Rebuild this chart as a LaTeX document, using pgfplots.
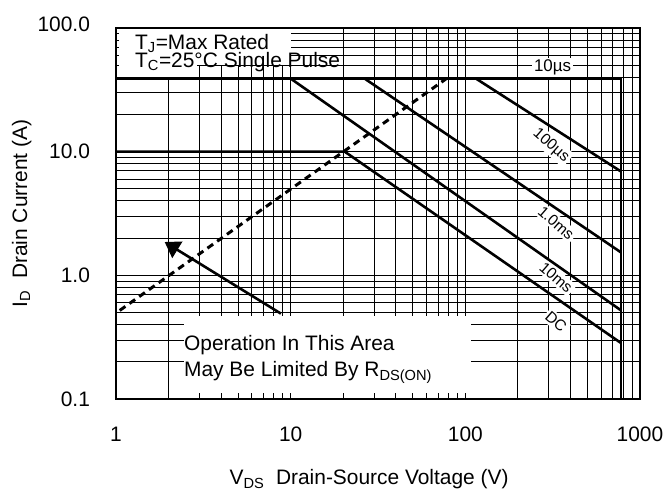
\documentclass[border=0pt]{standalone}
\usepackage{fontspec}
\setmainfont{Liberation Sans}
\usepackage{pgfplots}
\pgfplotsset{compat=1.18}
\usetikzlibrary{arrows.meta}
\begin{document}
\fontsize{21}{25}\selectfont
\begin{tikzpicture}
\begin{axis}[
  xmode=log, ymode=log,
  scale only axis, width=524bp, height=371bp,
  xmin=1, xmax=1000, ymin=0.1, ymax=100,
  xtick={1,10,100,1000}, xticklabels={1,10,100,1000},
  ytick={0.1,1,10,100}, yticklabels={0.1,1.0,10.0,\raisebox{7pt}{100.0}},
  grid=both,
  major grid style={black, line width=1.1pt},
  minor grid style={black, line width=0.9pt},
  major tick length=0pt, minor tick length=0pt,
  axis line style={line width=2.4pt},
  tick label style={font=\fontsize{21}{25}\selectfont},
  xticklabel style={yshift=-21pt},
  yticklabel style={xshift=-19pt},
  label style={font=\fontsize{21}{25}\selectfont},
  xlabel={V\textsubscript{DS}\ \ Drain-Source Voltage (V)},
  ylabel={I\textsubscript{D}\ \ Drain Current (A)},
  every axis x label/.style={at={(axis description cs:0.483,-0.217)}, anchor=center},
  every axis y label/.style={at={(axis description cs:-0.18,0.5)}, rotate=90, anchor=center},
]
% white areas behind annotations
\fill[white] (axis cs:1.04,50.6) rectangle (axis cs:10,97.5);
\fill[white] (axis cs:1.04,40.5) rectangle (axis cs:2.9,50.6);
\fill[white] (axis cs:2.45,0.112) rectangle (axis cs:108,0.47);

% curve labels (drawn before the curves so the curves stay whole)
\node[fill=white, inner sep=2pt, font=\fontsize{17}{19}\selectfont] at (axis cs:316,48) {10µs};
\node[fill=white, inner sep=2pt, rotate=-41, font=\fontsize{15.5}{18}\selectfont] at (axis cs:309,11.2) {100µs};
\node[fill=white, inner sep=2pt, rotate=-41, font=\fontsize{15.5}{18}\selectfont] at (axis cs:331,2.65) {1.0ms};
\node[fill=white, inner sep=2pt, rotate=-41, font=\fontsize{15.5}{18}\selectfont] at (axis cs:331,0.96) {10ms};
\node[fill=white, inner sep=2pt, rotate=-41, font=\fontsize{15.5}{18}\selectfont] at (axis cs:331,0.42) {DC};

% SOA boundaries
\addplot[black, line width=2.6pt] coordinates {(1,39) (780,39) (780,0.1)};
\addplot[black, line width=2.6pt] coordinates {(115,39) (780,6.9)};
\addplot[black, line width=2.6pt] coordinates {(26.5,39) (780,1.53)};
\addplot[black, line width=2.6pt] coordinates {(10,39) (780,0.52)};
\addplot[black, line width=2.6pt] coordinates {(1,10) (20.4,10) (780,0.283)};
% RDS(on) limit
\addplot[black, line width=3pt, dash pattern=on 7pt off 5pt] coordinates {(1.05,0.52) (78,39)};
% arrow
\addplot[black, line width=2.6pt, -{Triangle[length=15pt,width=19pt]}] coordinates {(8.8,0.49) (1.9,1.86)};

\node[anchor=base west, inner sep=0pt] at (axis cs:1.284,66.7) {T\textsubscript{J}=Max Rated};
\node[anchor=base west, inner sep=0pt] at (axis cs:1.284,47.9) {T\textsubscript{C}=25°C Single Pulse};
\node[anchor=base west, inner sep=0pt] at (axis cs:2.45,0.248) {Operation In This Area};
\node[anchor=base west, inner sep=0pt] at (axis cs:2.45,0.152) {May Be Limited By R\textsubscript{DS(ON)}};
\end{axis}
\pgfresetboundingbox
\useasboundingbox (-116bp,-92bp) rectangle (552bp,399bp);
\end{tikzpicture}
\end{document}
